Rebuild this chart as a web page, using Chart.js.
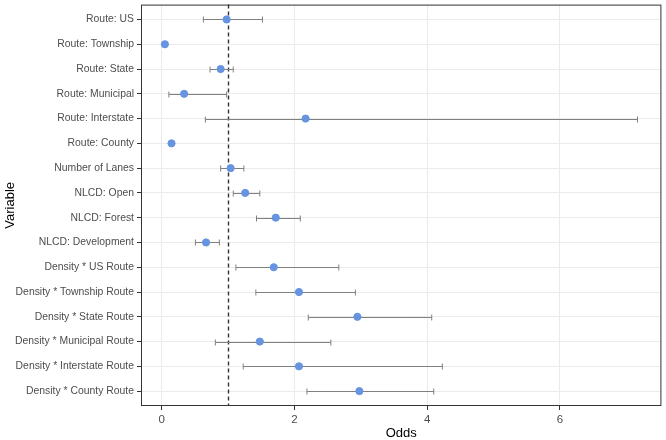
<!DOCTYPE html>
<html>
<head>
<meta charset="utf-8">
<title>Odds by variable</title>
<script src="https://cdn.jsdelivr.net/npm/chart.js@4.4.1/dist/chart.umd.min.js"></script>
<style>
  html, body { margin: 0; padding: 0; background: #fff; }
  canvas { display: block; }
</style>
</head>
<body>
<canvas id="oddsChart" width="666" height="440"></canvas>
<script>
"use strict";

// Variables, top to bottom
const variables = [
  "Route: US",
  "Route: Township",
  "Route: State",
  "Route: Municipal",
  "Route: Interstate",
  "Route: County",
  "Number of Lanes",
  "NLCD: Open",
  "NLCD: Forest",
  "NLCD: Development",
  "Density * US Route",
  "Density * Township Route",
  "Density * State Route",
  "Density * Municipal Route",
  "Density * Interstate Route",
  "Density * County Route",
];
const odds  = [0.98, 0.05, 0.89, 0.34, 2.17, 0.15, 1.04, 1.26, 1.72, 0.67, 1.69, 2.07, 2.95, 1.48, 2.07, 2.98];
const lower = [0.63, 0.04, 0.73, 0.11, 0.66, 0.13, 0.89, 1.08, 1.43, 0.51, 1.12, 1.42, 2.21, 0.81, 1.23, 2.19];
const upper = [1.52, 0.06, 1.08, 0.98, 7.17, 0.17, 1.24, 1.48, 2.09, 0.87, 2.67, 2.92, 4.07, 2.55, 4.23, 4.10];
const xTicks = [0, 2, 4, 6];
const refLine = 1;

const points = odds.map((v, i) => ({ x: v, y: i }));

// whiskers + dashed reference line, drawn under the points
const errorBars = {
  id: "errorBars",
  beforeDatasetsDraw(chart) {
    const { ctx, chartArea, scales } = chart;
    const xs = scales.x, ys = scales.y;
    ctx.save();
    // reference line at odds = 1
    const rx = Math.round(xs.getPixelForValue(refLine)) + 0.5;
    ctx.strokeStyle = "#333333";
    ctx.lineWidth = 1.4;
    ctx.setLineDash([4, 3]);
    ctx.beginPath();
    ctx.moveTo(rx, chartArea.top);
    ctx.lineTo(rx, chartArea.bottom);
    ctx.stroke();
    ctx.setLineDash([]);

    ctx.strokeStyle = "#808080";
    ctx.lineWidth = 1;
    const cap = 3;
    for (let i = 0; i < variables.length; i++) {
      const y = Math.round(ys.getPixelForValue(i)) + 0.5;
      const x0 = xs.getPixelForValue(lower[i]);
      const x1 = xs.getPixelForValue(upper[i]);
      ctx.beginPath();
      ctx.moveTo(x0, y); ctx.lineTo(x1, y);
      ctx.moveTo(x0, y - cap); ctx.lineTo(x0, y + cap);
      ctx.moveTo(x1, y - cap); ctx.lineTo(x1, y + cap);
      ctx.stroke();
    }
    ctx.restore();
  },
  afterDraw(chart) {
    const { ctx, chartArea } = chart;
    ctx.save();
    ctx.strokeStyle = "#333333";
    ctx.lineWidth = 1;
    ctx.strokeRect(chartArea.left + 0.5, chartArea.top + 0.5,
      chartArea.right - chartArea.left - 1, chartArea.bottom - chartArea.top - 1);
    ctx.restore();
  },
};

const font = "'Liberation Sans', Arial, sans-serif";

const config = {
  type: "scatter",
  data: {
    datasets: [
      {
        data: points,
        backgroundColor: "#6694e0",
        borderColor: "#6694e0",
        pointRadius: 3.6,
        pointHoverRadius: 3.6,
      },
    ],
  },
  options: {
    responsive: false,
    animation: false,
    devicePixelRatio: 1,
    layout: { padding: { top: 2, right: 3, left: 0, bottom: 0 } },
    plugins: { legend: { display: false }, tooltip: { enabled: false } },
    scales: {
      x: {
        type: "linear",
        min: -0.31,
        max: 7.53,
        afterBuildTicks: (scale) => {
          scale.ticks = xTicks.map((v) => ({ value: v }));
        },
        afterFit: (scale) => {
          scale.height = 34;
          scale.paddingLeft = 0;
          scale.paddingRight = 0;
        },
        grid: { color: "#ebebeb", tickColor: "#333333", tickLength: 4, lineWidth: 1 },
        border: { display: false },
        ticks: { color: "#4d4d4d", font: { family: font, size: 11.5 }, padding: 3 },
        title: {
          display: true,
          text: "Odds",
          color: "#000000",
          font: { family: font, size: 13 },
          padding: { top: 0, bottom: -1 },
        },
      },
      y: {
        type: "linear",
        reverse: true,
        min: -0.6,
        max: variables.length - 0.4,
        afterBuildTicks: (scale) => {
          scale.ticks = variables.map((v, i) => ({ value: i }));
        },
        afterFit: (scale) => {
          scale.width = 141;
          scale.paddingTop = 0;
          scale.paddingBottom = 0;
        },
        grid: { color: "#ebebeb", tickColor: "#333333", tickLength: 4, lineWidth: 1 },
        border: { display: false },
        ticks: {
          color: "#4d4d4d",
          font: { family: font, size: 10.4 },
          padding: 3,
          callback: (value) => variables[value],
        },
        title: {
          display: true,
          text: "Variable",
          color: "#000000",
          font: { family: font, size: 13 },
          padding: { top: 3, bottom: 0 },
        },
      },
    },
  },
  plugins: [errorBars],
};

const oddsChart = new Chart(document.getElementById("oddsChart"), config);
</script>
</body>
</html>
